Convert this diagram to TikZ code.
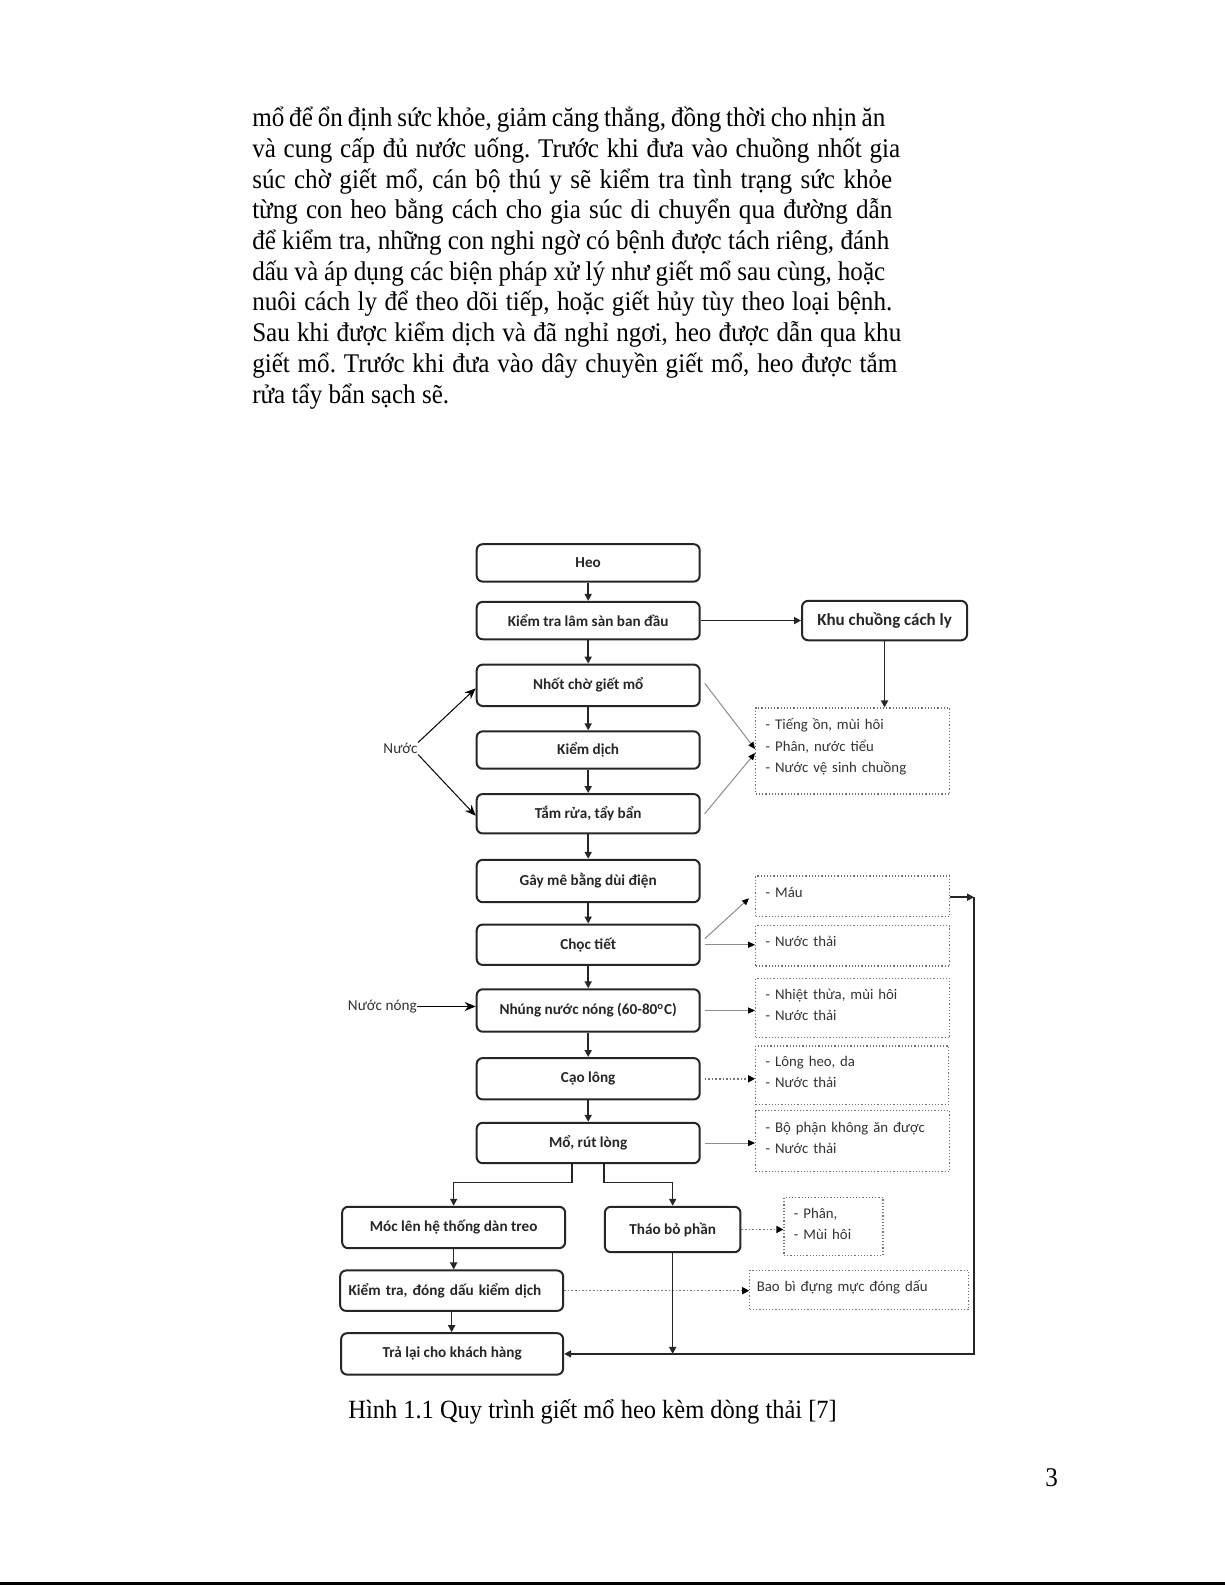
\documentclass[tikz,border=0pt]{standalone}
\usepackage{fontspec}
\newfontfamily\bodyfont[FakeStretch=0.93]{Liberation Serif}
\newfontfamily\dfont{Carlito}
\usetikzlibrary{arrows.meta,calc}
\frenchspacing
\begin{document}
\begin{tikzpicture}[x=0.50575pt,y=-0.50575pt,
  body/.style={anchor=base west,inner sep=0pt,font=\bodyfont\fontsize{13.5pt}{15pt}\selectfont},
  proc/.style={draw=black!85,line width=1pt,rounded corners=3pt,fill=white,inner sep=0pt,
    font=\dfont\fontsize{7.6pt}{9pt}\selectfont\bfseries,text=black!85},
  mainbox/.style={proc,minimum width=111.5pt},
  waste/.style={draw=black!55,densely dotted,line width=0.6pt,inner xsep=5pt,inner ysep=0pt,
    align=left,font=\dfont\fontsize{7.4pt}{10.6pt}\selectfont,text=black!80},
  lbl/.style={inner sep=0pt,font=\dfont\fontsize{7.6pt}{9pt}\selectfont,text=black!80},
  arr/.style={draw=black!85,line width=0.8pt,-{Triangle[length=3.5pt,width=3.5pt]}},
  bigarr/.style={draw=black,line width=0.5pt,-{Stealth[length=5.5pt,width=4.5pt]}},
  garr/.style={draw=black!45,line width=0.5pt,-{Triangle[length=3.5pt,width=3pt,color=black]}},
  darr/.style={draw=black!55,densely dotted,line width=0.8pt,-{Triangle[length=3.5pt,width=3.5pt,color=black]}}
]
\useasboundingbox (0pt,0pt) rectangle (612.5pt,-792.5pt);
\fill[white] (0pt,0pt) rectangle (612.5pt,-792.5pt);
% body text
\node[body] (t1) at (249,125) {\makebox[316.5pt][s]{mổ để ổn định sức khỏe, giảm căng thẳng, đồng thời cho nhịn ăn}};
\node[body] (t2) at (249,156) {\makebox[324pt][s]{và cung cấp đủ nước uống. Trước khi đưa vào chuồng nhốt gia}};
\node[body] (t3) at (249,186) {\makebox[320pt][s]{súc chờ giết mổ, cán bộ thú y sẽ kiểm tra tình trạng sức khỏe}};
\node[body] (t4) at (249,216) {\makebox[320pt][s]{từng con heo bằng cách cho gia súc di chuyển qua đường dẫn}};
\node[body] (t5) at (249,247) {\makebox[318.5pt][s]{để kiểm tra, những con nghi ngờ có bệnh được tách riêng, đánh}};
\node[body] (t6) at (249,277) {\makebox[316.5pt][s]{dấu và áp dụng các biện pháp xử lý như giết mổ sau cùng, hoặc}};
\node[body] (t7) at (249,307) {\makebox[320pt][s]{nuôi cách ly để theo dõi tiếp, hoặc giết hủy tùy theo loại bệnh.}};
\node[body] (t8) at (249,338) {\makebox[324.5pt][s]{Sau khi được kiểm dịch và đã nghỉ ngơi, heo được dẫn qua khu}};
\node[body] (t9) at (249,368) {\makebox[322.5pt][s]{giết mổ. Trước khi đưa vào dây chuyền giết mổ, heo được tắm}};
\node[body] (t10) at (249,399) {rửa tẩy bẩn sạch sẽ.};
% main column
\node[mainbox,minimum height=18.7pt] (heo) at (581.5,556.5) {Heo};
\node[mainbox,minimum height=18.7pt] (kt) at (581.5,613.5) {Kiểm tra lâm sàn ban đầu};
\node[mainbox,minimum height=20.7pt] (nhot) at (581.5,677.5) {Nhốt chờ giết mổ};
\node[mainbox,minimum height=18.7pt] (kd) at (581.5,741.5) {Kiểm dịch};
\node[mainbox,minimum height=19.7pt] (tam) at (581.5,804.5) {Tắm rửa, tẩy bẩn};
\node[mainbox,minimum height=21.2pt] (gay) at (581.5,871) {Gây mê bằng dùi điện};
\node[mainbox,minimum height=20.2pt] (choc) at (581.5,934) {Chọc tiết};
\node[mainbox,minimum height=21.2pt] (nhung) at (581.5,999) {Nhúng nước nóng (60-80\textsuperscript{o}C)};
\node[mainbox,minimum height=20.7pt] (cao) at (581.5,1066.5) {Cạo lông};
\node[mainbox,minimum height=20.2pt] (mo) at (581.5,1130) {Mổ, rút lòng};
\node[proc,minimum width=82.5pt,minimum height=19.7pt,font=\dfont\fontsize{8.5pt}{10pt}\selectfont\bfseries] (khu) at (874.5,613.5) {Khu chuồng cách ly};
\node[proc,minimum width=111.5pt,minimum height=20.7pt] (moc) at (448.5,1213.5) {Móc lên hệ thống dàn treo};
\node[proc,minimum width=67.8pt,minimum height=22.7pt] (thao) at (665,1215.5) {Tháo bỏ phần};
\node[proc,minimum width=111.5pt,minimum height=20.2pt,align=left,text width=103pt] (ktd) at (446.5,1276) {Kiểm tra, đóng dấu kiểm dịch};
\node[proc,minimum width=111pt,minimum height=20.7pt] (tra) at (447,1338.5) {Trả lại cho khách hàng};
% waste boxes
\node[waste,text width=87pt,minimum height=43pt] (w1) at (843,742.5) {- Tiếng ồn, mùi hôi\\- Phân, nước tiểu\\- Nước vệ sinh chuồng\\[-5pt]\mbox{}};
\node[waste,text width=87pt,minimum height=20.2pt] (wmau) at (843,886) {- Máu\\[-6.6pt]\mbox{}};
\node[waste,text width=87pt,minimum height=20.2pt] (wnt) at (843,935) {- Nước thải\\[-6.6pt]\mbox{}};
\node[waste,text width=87pt,minimum height=29.8pt] (wnhiet) at (843,996.5) {- Nhiệt thừa, mùi hôi\\- Nước thải\\[-7.6pt]\mbox{}};
\node[waste,text width=86.5pt,minimum height=29.3pt] (wlong) at (842.5,1063) {- Lông heo, da\\- Nước thải\\[-7.6pt]\mbox{}};
\node[waste,text width=87pt,minimum height=30.3pt] (wbo) at (843,1128) {- Bộ phận không ăn được\\- Nước thải\\[-7.6pt]\mbox{}};
\node[waste,text width=39.5pt,minimum height=28.8pt] (wphan) at (824,1212.5) {- Phân,\\- Mùi hôi\\[-7.6pt]\mbox{}};
\node[waste,text width=102.5pt,minimum height=19.7pt,inner xsep=3.5pt] (wbao) at (849.5,1275.5) {Bao bì đựng mực đóng dấu\\[-6pt]\mbox{}};
% labels
\node[lbl] (nuoc) at (396,740) {Nước};
\node[lbl] (nn) at (378,995) {Nước nóng};
\coordinate (rt) at (963,887);
% connectors
\draw[arr] (heo) -- (kt);
\draw[arr] (kt) -- (khu);
\draw[arr] (kt) -- (nhot);
\draw[arr] (nhot) -- (kd);
\draw[arr] (kd) -- (tam);
\draw[arr] (tam) -- (gay);
\draw[arr] (gay) -- (choc);
\draw[arr] (choc) -- (nhung);
\draw[arr] (nhung) -- (cao);
\draw[arr] (cao) -- (mo);
\draw[arr] (khu.south) -- (khu.south |- w1.north);
\draw[garr] ([shift={(2pt,1pt)}]nhot.east) -- ([yshift=1pt]w1.west);
\draw[garr] ([shift={(2pt,0pt)}]tam.east) -- ([yshift=-1pt]w1.west);
\draw[bigarr] ([yshift=3pt]nuoc.east) -- ([yshift=-1.5pt]nhot.west);
\draw[bigarr] ([yshift=-3pt]nuoc.east) -- ([yshift=-1pt]tam.west);
\draw[bigarr] (nn.east) -- (nn.east -| nhung.west);
\draw[garr] ([shift={(2pt,3pt)}]choc.east) -- ([shift={(-3pt,-1pt)}]wmau.west);
\draw[garr] ([xshift=2pt]choc.east) -- (choc.east -| wnt.west);
\draw[garr] ([xshift=2pt]nhung.east) -- (nhung.east -| wnhiet.west);
\draw[darr] ([xshift=2pt]cao.east) -- (cao.east -| wlong.west);
\draw[garr] ([xshift=2pt]mo.east) -- (mo.east -| wbo.west);
\draw[arr] ([xshift=-8pt]mo.south) -- ++(0,18) -| (moc.north);
\draw[arr] ([xshift=8pt]mo.south) -- ++(0,18) -| (thao.north);
\draw[darr] (thao.east) -- (thao.east -| wphan.west);
\draw[arr] (moc.south) -- (moc.south |- ktd.north);
\draw[arr] (ktd.south) -- (ktd.south |- tra.north);
\draw[darr] (ktd.east) -- (ktd.east -| wbao.west);
\draw[arr] (thao.south) -- (thao.south |- tra.east);
\draw[arr] (wmau.east |- rt) -- (rt);
\draw[arr] (rt) -- (rt |- tra.east) -- (tra.east);
% caption and page number
\node[body,font=\bodyfont\fontsize{13.15pt}{15pt}\selectfont] (cap) at (344,1402) {Hình 1.1 Quy trình giết mổ heo kèm dòng thải [7]};
\node[body] (pg) at (1033,1470) {3};
\fill[black] (0pt,-791pt) rectangle (612.5pt,-792.5pt);
\end{tikzpicture}
\end{document}
